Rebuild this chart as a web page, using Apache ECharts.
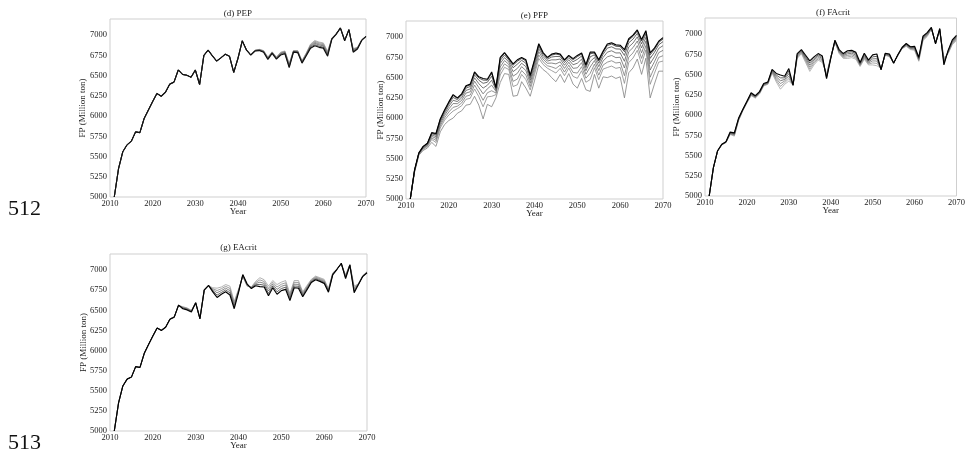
<!DOCTYPE html>
<html>
<head>
<meta charset="utf-8">
<script src="https://cdn.jsdelivr.net/npm/echarts@6/dist/echarts.min.js"></script>
<style>
  html, body { margin: 0; padding: 0; background: #fff; }
  #main { width: 968px; height: 451px; }
</style>
</head>
<body>
<div id="main"></div>
<script>
// Simulation years
const years = [2011, 2012, 2013, 2014, 2015, 2016, 2017, 2018, 2019, 2020,
  2021, 2022, 2023, 2024, 2025, 2026, 2027, 2028, 2029, 2030,
  2031, 2032, 2033, 2034, 2035, 2036, 2037, 2038, 2039, 2040,
  2041, 2042, 2043, 2044, 2045, 2046, 2047, 2048, 2049, 2050,
  2051, 2052, 2053, 2054, 2055, 2056, 2057, 2058, 2059, 2060,
  2061, 2062, 2063, 2064, 2065, 2066, 2067, 2068, 2069, 2070];

const xTicks = [2010, 2020, 2030, 2040, 2050, 2060, 2070];
const yTicks = [5000, 5250, 5500, 5750, 6000, 6250, 6500, 6750, 7000];

// (d) PEP runs, FP in million ton
const pep1 = [5000, 5350, 5560, 5645, 5690, 5805, 5795, 5970, 6075, 6180,
  6280, 6245, 6295, 6395, 6420, 6570, 6515, 6505, 6480, 6570,
  6390, 6750, 6815, 6745, 6680, 6720, 6765, 6740, 6540, 6715,
  6930, 6815, 6755, 6815, 6825, 6810, 6730, 6795, 6730, 6790,
  6805, 6650, 6810, 6810, 6685, 6780, 6890, 6935, 6915, 6905,
  6800, 6965, 7020, 7085, 6945, 7060, 6835, 6850, 6945, 6985];
const pep2 = [5000, 5350, 5560, 5645, 5690, 5805, 5795, 5970, 6075, 6180,
  6280, 6245, 6295, 6395, 6420, 6570, 6515, 6505, 6480, 6570,
  6390, 6750, 6815, 6745, 6680, 6720, 6765, 6740, 6540, 6715,
  6930, 6815, 6755, 6813, 6823, 6807, 6725, 6792, 6726, 6785,
  6800, 6642, 6807, 6806, 6680, 6775, 6882, 6925, 6905, 6895,
  6791, 6963, 7018, 7086, 6943, 7062, 6828, 6847, 6943, 6985];
const pep3 = [5000, 5350, 5560, 5645, 5690, 5805, 5795, 5970, 6075, 6180,
  6280, 6245, 6295, 6395, 6420, 6570, 6515, 6505, 6480, 6570,
  6390, 6750, 6815, 6745, 6680, 6720, 6765, 6740, 6540, 6715,
  6930, 6815, 6755, 6811, 6820, 6803, 6720, 6788, 6721, 6778,
  6793, 6633, 6803, 6801, 6675, 6768, 6873, 6912, 6892, 6882,
  6779, 6960, 7016, 7087, 6940, 7064, 6820, 6843, 6941, 6985];
const pep4 = [5000, 5350, 5560, 5645, 5690, 5805, 5795, 5970, 6075, 6180,
  6280, 6245, 6295, 6395, 6420, 6570, 6515, 6505, 6480, 6570,
  6390, 6750, 6815, 6745, 6680, 6720, 6765, 6740, 6540, 6715,
  6930, 6815, 6755, 6810, 6817, 6799, 6713, 6784, 6716, 6771,
  6786, 6622, 6799, 6796, 6668, 6761, 6862, 6899, 6879, 6869,
  6767, 6957, 7014, 7088, 6937, 7066, 6810, 6839, 6939, 6985];
const pep5 = [5000, 5350, 5560, 5645, 5690, 5805, 5795, 5970, 6075, 6180,
  6280, 6245, 6295, 6395, 6420, 6570, 6515, 6505, 6480, 6570,
  6390, 6750, 6815, 6745, 6680, 6720, 6765, 6740, 6540, 6715,
  6930, 6815, 6755, 6807, 6813, 6794, 6706, 6779, 6710, 6762,
  6777, 6610, 6794, 6790, 6661, 6752, 6850, 6883, 6863, 6853,
  6752, 6953, 7012, 7089, 6933, 7068, 6799, 6834, 6937, 6985];
const pep6 = [5000, 5350, 5560, 5645, 5690, 5805, 5795, 5970, 6075, 6180,
  6280, 6245, 6295, 6395, 6420, 6570, 6515, 6505, 6480, 6570,
  6390, 6750, 6815, 6745, 6680, 6720, 6765, 6740, 6540, 6715,
  6930, 6815, 6755, 6805, 6810, 6790, 6700, 6775, 6705, 6755,
  6770, 6600, 6790, 6785, 6655, 6745, 6840, 6870, 6850, 6840,
  6740, 6950, 7010, 7090, 6930, 7070, 6790, 6830, 6935, 6985];

// (e) PFP runs
const pfp1 = [5000, 5330, 5540, 5600, 5630, 5700, 5650, 5830, 5920, 5970,
  6000, 6060, 6090, 6160, 6170, 6270, 6160, 5990, 6170, 6140,
  6250, 6440, 6550, 6540, 6270, 6280, 6450, 6370, 6270, 6460,
  6660, 6600, 6560, 6500, 6450, 6540, 6440, 6550, 6420, 6370,
  6490, 6350, 6330, 6540, 6370, 6510, 6500, 6520, 6490, 6510,
  6250, 6560, 6620, 6730, 6540, 6740, 6250, 6420, 6580, 6580];
const pfp2 = [5000, 5339, 5549, 5615, 5648, 5736, 5698, 5878, 5974, 6039,
  6087, 6117, 6153, 6232, 6245, 6360, 6265, 6140, 6263, 6269,
  6289, 6533, 6628, 6600, 6390, 6412, 6540, 6475, 6348, 6538,
  6738, 6663, 6617, 6587, 6557, 6615, 6524, 6618, 6515, 6492,
  6585, 6443, 6476, 6622, 6475, 6605, 6625, 6643, 6615, 6627,
  6429, 6686, 6742, 6838, 6669, 6842, 6417, 6554, 6691, 6705];
const pfp3 = [5000, 5344, 5554, 5623, 5658, 5755, 5724, 5904, 6003, 6076,
  6133, 6147, 6187, 6270, 6285, 6408, 6321, 6220, 6313, 6338,
  6310, 6583, 6670, 6632, 6454, 6482, 6588, 6531, 6390, 6580,
  6780, 6697, 6647, 6633, 6613, 6655, 6569, 6654, 6565, 6556,
  6635, 6493, 6553, 6667, 6531, 6655, 6691, 6709, 6681, 6689,
  6524, 6753, 6806, 6896, 6738, 6896, 6505, 6625, 6750, 6771];
const pfp4 = [5000, 5349, 5559, 5631, 5667, 5774, 5749, 5929, 6032, 6113,
  6180, 6178, 6220, 6309, 6325, 6456, 6377, 6300, 6362, 6407,
  6331, 6632, 6711, 6664, 6518, 6553, 6636, 6587, 6431, 6621,
  6821, 6730, 6678, 6680, 6670, 6695, 6614, 6690, 6615, 6621,
  6685, 6542, 6631, 6711, 6587, 6705, 6757, 6774, 6747, 6752,
  6619, 6820, 6871, 6953, 6807, 6951, 6594, 6696, 6809, 6837];
const pfp5 = [5000, 5353, 5563, 5638, 5676, 5791, 5772, 5952, 6057, 6145,
  6220, 6204, 6250, 6342, 6360, 6498, 6426, 6370, 6406, 6467,
  6349, 6676, 6748, 6692, 6574, 6614, 6678, 6636, 6468, 6658,
  6858, 6760, 6704, 6720, 6720, 6730, 6653, 6721, 6659, 6678,
  6729, 6586, 6699, 6749, 6636, 6749, 6815, 6832, 6805, 6806,
  6702, 6879, 6928, 7004, 6867, 6998, 6672, 6758, 6861, 6895];
const pfp6 = [5000, 5356, 5566, 5644, 5683, 5806, 5791, 5971, 6078, 6172,
  6255, 6227, 6275, 6371, 6390, 6534, 6468, 6430, 6443, 6518,
  6364, 6713, 6779, 6716, 6622, 6667, 6714, 6678, 6499, 6689,
  6889, 6785, 6727, 6755, 6762, 6760, 6686, 6748, 6697, 6726,
  6767, 6623, 6757, 6782, 6678, 6787, 6865, 6881, 6855, 6853,
  6774, 6930, 6976, 7047, 6918, 7039, 6738, 6812, 6906, 6945];
const pfp7 = [5000, 5359, 5569, 5648, 5688, 5815, 5804, 5984, 6093, 6191,
  6278, 6242, 6292, 6390, 6410, 6558, 6496, 6470, 6468, 6553,
  6375, 6738, 6800, 6732, 6654, 6702, 6738, 6706, 6520, 6710,
  6910, 6802, 6742, 6778, 6791, 6780, 6709, 6766, 6722, 6759,
  6792, 6648, 6796, 6804, 6706, 6812, 6898, 6914, 6888, 6884,
  6821, 6963, 7009, 7076, 6953, 7066, 6783, 6847, 6935, 6978];
const pfp8 = [5000, 5360, 5570, 5650, 5690, 5820, 5810, 5990, 6100, 6200,
  6290, 6250, 6300, 6400, 6420, 6570, 6510, 6490, 6480, 6570,
  6380, 6750, 6810, 6740, 6670, 6720, 6750, 6720, 6530, 6720,
  6920, 6810, 6750, 6790, 6805, 6790, 6720, 6775, 6735, 6775,
  6805, 6660, 6815, 6815, 6720, 6825, 6915, 6930, 6905, 6900,
  6845, 6980, 7025, 7090, 6970, 7080, 6805, 6865, 6950, 6995];

// (f) FAcrit runs
const fa1 = [5000, 5345, 5550, 5630, 5660, 5760, 5740, 5930, 6050, 6150,
  6240, 6210, 6260, 6360, 6380, 6520, 6410, 6320, 6380, 6420,
  6370, 6700, 6760, 6650, 6540, 6620, 6680, 6650, 6510, 6720,
  6900, 6760, 6700, 6700, 6710, 6690, 6600, 6690, 6620, 6620,
  6610, 6580, 6740, 6720, 6650, 6735, 6820, 6850, 6810, 6800,
  6665, 6920, 6970, 7060, 6900, 7040, 6710, 6760, 6870, 6920];
const fa2 = [5000, 5346, 5552, 5632, 5662, 5766, 5748, 5936, 6054, 6154,
  6247, 6216, 6266, 6366, 6386, 6529, 6431, 6355, 6400, 6451,
  6370, 6712, 6770, 6668, 6566, 6640, 6696, 6666, 6498, 6716,
  6905, 6770, 6712, 6719, 6728, 6707, 6610, 6705, 6632, 6645,
  6639, 6576, 6745, 6727, 6648, 6737, 6823, 6857, 6817, 6810,
  6675, 6931, 6980, 7065, 6896, 7046, 6692, 6768, 6882, 6933];
const fa3 = [5000, 5347, 5554, 5634, 5664, 5772, 5756, 5942, 6058, 6158,
  6254, 6222, 6272, 6372, 6392, 6538, 6452, 6390, 6420, 6482,
  6370, 6724, 6780, 6686, 6592, 6660, 6712, 6682, 6486, 6712,
  6910, 6780, 6724, 6738, 6746, 6724, 6620, 6720, 6644, 6670,
  6668, 6572, 6750, 6734, 6646, 6739, 6826, 6864, 6824, 6820,
  6685, 6942, 6990, 7070, 6892, 7052, 6674, 6776, 6894, 6946];
const fa4 = [5000, 5348, 5556, 5636, 5666, 5778, 5764, 5948, 6062, 6162,
  6261, 6228, 6278, 6378, 6398, 6547, 6473, 6425, 6440, 6513,
  6370, 6736, 6790, 6704, 6618, 6680, 6728, 6698, 6474, 6708,
  6915, 6790, 6736, 6757, 6764, 6741, 6630, 6735, 6656, 6695,
  6697, 6568, 6755, 6741, 6644, 6741, 6829, 6871, 6831, 6830,
  6695, 6953, 7000, 7075, 6888, 7058, 6656, 6784, 6906, 6959];
const fa5 = [5000, 5349, 5558, 5638, 5668, 5784, 5772, 5954, 6066, 6166,
  6268, 6234, 6284, 6384, 6404, 6556, 6494, 6460, 6460, 6544,
  6370, 6748, 6800, 6722, 6644, 6700, 6744, 6714, 6462, 6704,
  6920, 6800, 6748, 6776, 6782, 6758, 6640, 6750, 6668, 6720,
  6726, 6564, 6760, 6748, 6642, 6743, 6832, 6878, 6838, 6840,
  6705, 6964, 7010, 7080, 6884, 7064, 6638, 6792, 6918, 6972];
const fa6 = [5000, 5350, 5560, 5640, 5670, 5790, 5780, 5960, 6070, 6170,
  6275, 6240, 6290, 6390, 6410, 6565, 6515, 6495, 6480, 6575,
  6370, 6760, 6810, 6740, 6670, 6720, 6760, 6730, 6450, 6700,
  6925, 6810, 6760, 6795, 6800, 6775, 6650, 6765, 6680, 6745,
  6755, 6560, 6765, 6755, 6640, 6745, 6835, 6885, 6845, 6850,
  6715, 6975, 7020, 7085, 6880, 7070, 6620, 6800, 6930, 6985];

// (g) EAcrit runs
const ea1 = [5000, 5350, 5560, 5645, 5670, 5800, 5790, 5965, 6075, 6180,
  6280, 6255, 6295, 6395, 6420, 6560, 6545, 6530, 6500, 6590,
  6400, 6745, 6805, 6780, 6775, 6790, 6820, 6800, 6610, 6760,
  6920, 6800, 6790, 6860, 6905, 6880, 6800, 6870, 6820, 6850,
  6870, 6710, 6870, 6870, 6730, 6810, 6885, 6925, 6905, 6885,
  6770, 6965, 7015, 7075, 6940, 7070, 6800, 6830, 6930, 6980];
const ea2 = [5000, 5350, 5560, 5645, 5670, 5800, 5790, 5965, 6075, 6180,
  6280, 6254, 6294, 6394, 6419, 6561, 6539, 6524, 6495, 6591,
  6399, 6748, 6806, 6768, 6746, 6768, 6798, 6772, 6588, 6750,
  6926, 6808, 6785, 6846, 6878, 6858, 6770, 6848, 6790, 6824,
  6842, 6688, 6848, 6846, 6715, 6796, 6875, 6914, 6894, 6872,
  6759, 6959, 7014, 7078, 6929, 7068, 6780, 6828, 6928, 6976];
const ea3 = [5000, 5350, 5560, 5645, 5670, 5800, 5790, 5965, 6075, 6180,
  6280, 6252, 6292, 6392, 6417, 6562, 6532, 6518, 6490, 6592,
  6398, 6750, 6808, 6755, 6718, 6745, 6775, 6745, 6565, 6740,
  6932, 6815, 6780, 6832, 6850, 6835, 6740, 6825, 6760, 6798,
  6815, 6665, 6825, 6822, 6700, 6782, 6865, 6902, 6882, 6860,
  6748, 6952, 7012, 7080, 6918, 7065, 6760, 6825, 6925, 6972];
const ea4 = [5000, 5350, 5560, 5645, 5670, 5800, 5790, 5965, 6075, 6180,
  6280, 6251, 6291, 6391, 6416, 6564, 6526, 6511, 6485, 6594,
  6396, 6752, 6809, 6742, 6689, 6722, 6752, 6718, 6542, 6730,
  6939, 6822, 6775, 6819, 6822, 6812, 6710, 6802, 6730, 6771,
  6787, 6642, 6802, 6799, 6685, 6769, 6855, 6891, 6871, 6847,
  6736, 6946, 7011, 7082, 6906, 7062, 6740, 6822, 6922, 6969];
const ea5 = [5000, 5350, 5560, 5645, 5670, 5800, 5790, 5965, 6075, 6180,
  6280, 6250, 6290, 6390, 6415, 6565, 6520, 6505, 6480, 6595,
  6395, 6755, 6810, 6730, 6660, 6700, 6730, 6690, 6520, 6720,
  6945, 6830, 6770, 6805, 6795, 6790, 6680, 6780, 6700, 6745,
  6760, 6620, 6780, 6775, 6670, 6755, 6845, 6880, 6860, 6835,
  6725, 6940, 7010, 7085, 6895, 7060, 6720, 6820, 6920, 6965];

const SERIF = "'Liberation Serif', 'Times New Roman', 'DejaVu Serif', serif";
const INK = '#1c1c1c';
const TICK_SIZE = 8.5;
const NAME_SIZE = 9;

// Panel layout (pixel boxes of the plotting areas)
const panels = [
  { title: '(d) PEP', box: { left: 110, top: 19, width: 256, height: 178 }, titleY: 14, yNameGap: 23,
    runs: [pep1, pep2, pep3, pep4, pep5, pep6],
    colors: ['#a8a8a8', '#909090', '#787878', '#5a5a5a', '#3a3a3a', '#111111'] },
  { title: '(e) PFP', box: { left: 406, top: 21, width: 257, height: 178 }, titleY: 16, yNameGap: 21,
    runs: [pfp1, pfp2, pfp3, pfp4, pfp5, pfp6, pfp7, pfp8],
    colors: ['#808080', '#8a8a8a', '#7a7a7a', '#6a6a6a', '#585858', '#444444', '#2a2a2a', '#000000'] },
  { title: '(f) FAcrit', box: { left: 705, top: 18, width: 256, height: 178 }, titleY: 13, yNameGap: 24,
    runs: [fa1, fa2, fa3, fa4, fa5, fa6],
    colors: ['#a8a8a8', '#909090', '#787878', '#5a5a5a', '#3a3a3a', '#000000'] },
  { title: '(g) EAcrit', box: { left: 110, top: 254, width: 257, height: 178 }, titleY: 248, yNameGap: 22,
    runs: [ea1, ea2, ea3, ea4, ea5],
    colors: ['#a0a0a0', '#858585', '#686868', '#3c3c3c', '#000000'] }
];

const grid = [], xAxis = [], yAxis = [], series = [], graphic = [];

panels.forEach((p, i) => {
  grid.push(Object.assign({ show: true, borderColor: '#cfcfcf', borderWidth: 1, backgroundColor: '#fff' }, p.box));
  xAxis.push({
    type: 'value', gridIndex: i, min: xTicks[0], max: xTicks[xTicks.length - 1], interval: 10,
    name: 'Year', nameLocation: 'middle', nameGap: 10, nameMoveOverlap: false,
    nameTextStyle: { fontFamily: SERIF, fontSize: NAME_SIZE, color: INK },
    axisLine: { show: false }, axisTick: { show: false }, splitLine: { show: false },
    axisLabel: { margin: 2, fontFamily: SERIF, fontSize: TICK_SIZE, color: INK, showMinLabel: true, showMaxLabel: true,
      formatter: v => String(v) }
  });
  yAxis.push({
    type: 'value', gridIndex: i, min: yTicks[0], max: 7200, interval: 250,
    name: 'FP (Million ton)', nameLocation: 'middle', nameGap: p.yNameGap, nameMoveOverlap: false,
    nameTextStyle: { fontFamily: SERIF, fontSize: NAME_SIZE, color: INK },
    axisLine: { show: false }, axisTick: { show: false }, splitLine: { show: false },
    axisLabel: { margin: 3, fontFamily: SERIF, fontSize: TICK_SIZE, color: INK, showMaxLabel: false,
      formatter: v => (yTicks.indexOf(v) >= 0 ? String(v) : '') }
  });
  p.runs.forEach((run, j) => {
    const dark = j === p.runs.length - 1;
    series.push({
      type: 'line', xAxisIndex: i, yAxisIndex: i,
      data: years.map((yr, k) => [yr, run[k]]),
      showSymbol: false, symbol: 'none', silent: true, clip: true,
      lineStyle: { color: p.colors[j], width: dark ? 1.15 : 0.8 },
      z: 2 + j
    });
  });
  graphic.push({
    type: 'text', x: p.box.left + p.box.width / 2, y: p.titleY,
    style: { text: p.title, fontFamily: SERIF, fontSize: NAME_SIZE, fill: INK, textAlign: 'center', textVerticalAlign: 'middle' }
  });
});

// Manuscript line numbers
graphic.push({ type: 'text', x: 8, y: 209, style: { text: '512', fontFamily: SERIF, fontSize: 22, fill: '#111', textVerticalAlign: 'middle' } });
graphic.push({ type: 'text', x: 8, y: 443, style: { text: '513', fontFamily: SERIF, fontSize: 22, fill: '#111', textVerticalAlign: 'middle' } });

const chart = echarts.init(document.getElementById('main'), null, { renderer: 'canvas' });
chart.setOption({
  animation: false,
  backgroundColor: '#ffffff',
  grid, xAxis, yAxis, series, graphic
});
</script>
</body>
</html>
